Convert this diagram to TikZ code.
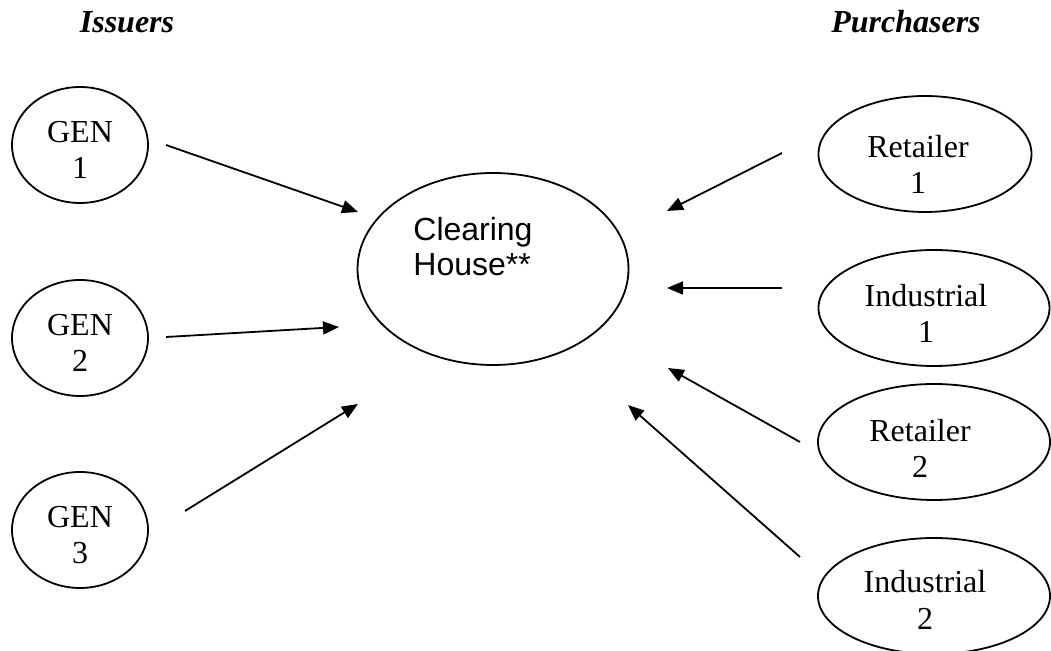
\documentclass[tikz,border=0pt]{standalone}
\usepackage{fontspec}
\setmainfont{Liberation Serif}
\newfontfamily\arialfont{Liberation Sans}
\usetikzlibrary{shapes.geometric,arrows.meta}

\begin{document}
\begin{tikzpicture}[x=0.5pt, y=-0.5pt,
    party/.style={ellipse, draw=black, line width=0.9pt, inner sep=0pt, minimum width=68pt, minimum height=58pt},
    tag/.style={inner sep=0pt, align=center, font=\fontsize{16}{18.25}\selectfont},
    hub/.style={ellipse, draw=black, line width=0.9pt, inner sep=0pt, minimum width=135.5pt, minimum height=96pt},
    head/.style={anchor=base, inner sep=0pt, font=\fontsize{16}{18}\selectfont\bfseries\itshape},
    flow/.style={-{Triangle[length=8pt, width=6.5pt]}, line width=0.9pt, draw=black}
]
    \useasboundingbox (0,0) rectangle (1051,651);

    % Headings
    \node[head] (issuers) at (127,33) {Issuers};
    \node[head] (purchasers) at (906,33) {Purchasers};

    % Issuers
    \node[party, label={[tag, yshift=-2.5pt]center:GEN\\1}] (gen1) at (80,145) {};
    \node[party, label={[tag, yshift=-2.5pt]center:GEN\\2}] (gen2) at (80,338) {};
    \node[party, label={[tag, yshift=-2.5pt]center:GEN\\3}] (gen3) at (80,530) {};

    % Clearing house
    \node[hub] (house) at (493,269) {};
    \node[anchor=north west, inner sep=0pt, align=left, font=\arialfont\fontsize{16}{17.5}\selectfont] (houselabel) at (413,217) {Clearing\\House**};

    % Purchasers
    \node[party, minimum width=106.5pt, label={[tag, xshift=-3.5pt, yshift=-5.25pt]center:Retailer\\1}] (ret1) at (925,154) {};
    \node[party, minimum width=115.5pt, label={[tag, xshift=-4pt, yshift=-2.75pt]center:Industrial\\1}] (ind1) at (934,308) {};
    \node[party, minimum width=116pt, label={[tag, xshift=-7pt, yshift=-3.25pt]center:Retailer\\2}] (ret2) at (934,442) {};
    \node[party, minimum width=116pt, label={[tag, xshift=-4.5pt, yshift=-2pt]center:Industrial\\2}] (ind2) at (934,596) {};

    % Arrow ends
    \coordinate (gen1out) at (166,145);
    \coordinate (gen1in) at (358,212);
    \coordinate (gen2out) at (166,337);
    \coordinate (gen2in) at (339,327);
    \coordinate (gen3out) at (185,511);
    \coordinate (gen3in) at (358,404);
    \coordinate (ret1out) at (782,153);
    \coordinate (ret1in) at (667,211);
    \coordinate (ind1out) at (782,288);
    \coordinate (ind1in) at (667,288);
    \coordinate (ret2out) at (800,442);
    \coordinate (ret2in) at (668,368);
    \coordinate (ind2out) at (800,557);
    \coordinate (ind2in) at (628,405);

    % Arrows
    \draw[flow] (gen1out) -- (gen1in);
    \draw[flow] (gen2out) -- (gen2in);
    \draw[flow] (gen3out) -- (gen3in);
    \draw[flow] (ret1out) -- (ret1in);
    \draw[flow] (ind1out) -- (ind1in);
    \draw[flow] (ret2out) -- (ret2in);
    \draw[flow] (ind2out) -- (ind2in);
\end{tikzpicture}
\end{document}
